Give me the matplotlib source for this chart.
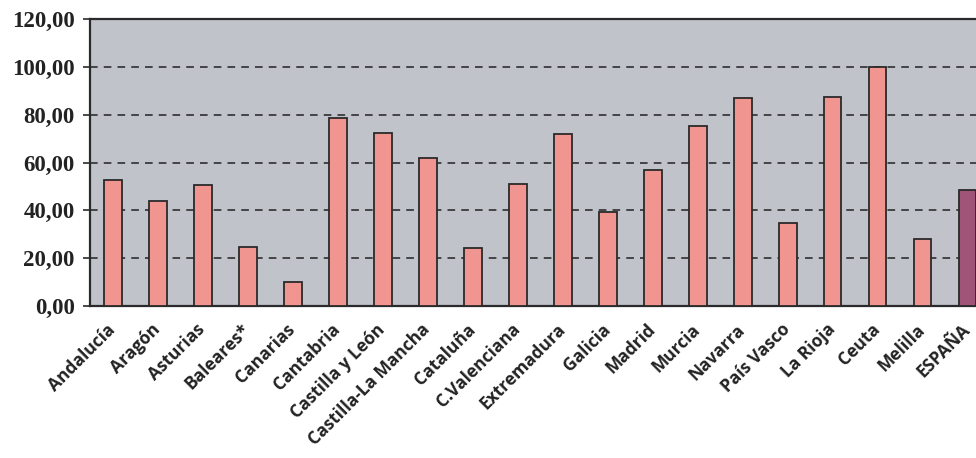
import matplotlib
matplotlib.use("Agg")
import matplotlib.pyplot as plt
from matplotlib.ticker import FuncFormatter

# values
regions = ["Andalucía", "Aragón", "Asturias", "Baleares*", "Canarias", "Cantabria",
           "Castilla y León", "Castilla-La Mancha", "Cataluña", "C.Valenciana",
           "Extremadura", "Galicia", "Madrid", "Murcia", "Navarra", "País Vasco",
           "La Rioja", "Ceuta", "Melilla", "ESPAÑA"]
values = [52.5, 43.7, 50.7, 24.5, 10.0, 78.5, 72.3, 61.9, 24.2, 51.0,
          71.8, 39.3, 56.7, 75.2, 86.9, 34.8, 87.5, 99.8, 28.0, 48.3]
yticks = [0, 20, 40, 60, 80, 100, 120]

bar_color = "#F09590"
total_color = "#A05478"
colors = [bar_color] * (len(values) - 1) + [total_color]

fig = plt.figure(figsize=(9.76, 4.58), dpi=100)
# axes runs past the right edge of the figure, like the cropped original
ax = fig.add_axes([90 / 976, 152 / 458, 900 / 976, 287 / 458])
ax.set_facecolor("#C0C3CA")

x = range(len(values))
ax.bar(x, values, width=0.4, color=colors, edgecolor="#2a2a2a", linewidth=1.3, zorder=3)

ax.set_xlim(-0.5, len(values) - 0.5)
ax.set_ylim(0, 120)
ax.set_yticks(yticks)
ax.yaxis.set_major_formatter(FuncFormatter(lambda v, p: f"{v:.2f}".replace(".", ",")))
ax.grid(axis="y", color="#222222", linestyle=(0, (5, 4)), linewidth=1.1, zorder=1)

for s in ["top", "left", "bottom"]:
    ax.spines[s].set_color("#2a2a2a")
    ax.spines[s].set_linewidth(1.6)
ax.spines["right"].set_visible(False)

ax.tick_params(axis="y", length=5, width=1.2, color="#2a2a2a", pad=6)
ax.tick_params(axis="x", length=0, pad=15)
for lab in ax.get_yticklabels():
    lab.set_fontfamily("Liberation Serif")
    lab.set_fontweight("bold")
    lab.set_fontsize(16.5)
    lab.set_color("#222222")

ax.set_xticks(list(x))
ax.set_xticklabels(regions, rotation=45, ha="right", va="center", rotation_mode="anchor",
                   fontfamily="Open Sans", fontweight="bold", fontsize=12.5, color="#222222")

fig.savefig("out.png", dpi=100)
